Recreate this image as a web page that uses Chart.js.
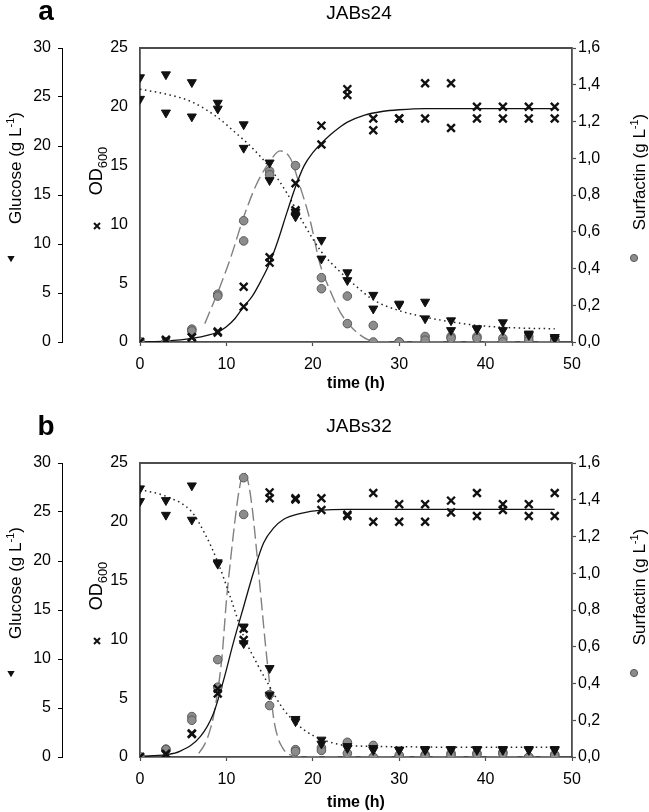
<!DOCTYPE html>
<html><head><meta charset="utf-8">
<script src="https://cdn.jsdelivr.net/npm/chart.js@4.4.1/dist/chart.umd.min.js"></script>
<style>
html,body{margin:0;padding:0;background:#fff;}
#wrap{position:relative;width:649px;height:812px;overflow:hidden;}
canvas{position:absolute;left:0;display:block;}
</style></head><body>
<div id="wrap">
<canvas id="cA" width="649" height="406" style="top:0;width:649px;height:406px"></canvas>
<canvas id="cB" width="649" height="406" style="top:406px;width:649px;height:406px"></canvas>
</div>
<script>
// ---------- data ----------
const times = [0,3,6,9,12,15,18,21,24,27,30,33,36,39,42,45,48];

// Panel a : JABs24
const glucoseA_rep1 = [27.0,27.3,26.5,24.4,22.2,18.3,13.3,10.4,7.1,4.8,3.9,4.1,2.2,1.4,2.0,0.85,0.5];
const glucoseA_rep2 = [24.8,23.4,23.0,23.8,19.8,16.5,12.8,8.5,6.3,3.4,3.8,2.4,1.2,1.3,1.2,0.7,0.35];
const odA_rep1 = [0,0.2,0.4,0.9,4.7,7.2,13.5,18.4,21.5,19.0,19.0,22.0,22.0,20.0,20.0,20.0,20.0];
const odA_rep2 = [0,0.1,0.4,0.8,3.0,6.75,11.2,16.8,21.0,18.0,19.0,19.0,18.2,19.0,19.0,19.0,19.0];
const surfA_rep1 = [0,0,0.07,0.26,0.66,0.93,0.96,0.35,0.25,0.09,0.0,0.03,0.03,0.03,0.02,0.03,0.01];
const surfA_rep2 = [0,0,0.06,0.25,0.55,0.91,0.70,0.29,0.10,0.0,0.0,0.01,0.02,0.02,0.0,0.01,0.01];
const odFitA_t = [0,3,6,8,9,10,11,12,13,14,15,16,17,18,19,20,21,22,23,24,26,28,30,33,40,48];
const odFitA   = [0.0,0.08,0.3,0.6,0.85,1.3,2.0,3.0,3.9,5.2,6.7,8.7,11.0,13.2,15.0,16.1,16.9,17.6,18.2,18.7,19.3,19.6,19.75,19.85,19.85,19.85];
const gluFitA_t = [0,3,6,9,11,13,15,17,19,21,23,25,27,30,33,36,39,42,45,48];
const gluFitA   = [25.8,25.3,24.5,22.9,21.4,19.8,17.8,15.2,12.0,9.2,7.3,5.7,4.3,3.2,2.55,2.05,1.7,1.5,1.4,1.35];
const surfFitA_t = [7.5,9,10.5,12,13.5,15,16.2,17.4,18.5,19.7,20.8,22,23.2,24.7,26.5,28,48];
const surfFitA   = [0.10,0.27,0.46,0.68,0.86,0.98,1.04,1.0,0.85,0.66,0.43,0.28,0.16,0.07,0.01,0,0];

// Panel b : JABs32
const glucoseB_rep1 = [27.4,26.2,27.7,19.85,13.3,9.06,3.87,1.76,1.1,0.9,0.75,0.8,0.8,0.8,0.8,0.8,0.8];
const glucoseB_rep2 = [26.1,24.7,24.2,19.7,11.6,6.35,3.63,1.35,0.9,0.7,0.7,0.7,0.7,0.7,0.7,0.7,0.7];
const odB_rep1 = [0,0.28,1.95,5.8,10.9,22.5,22.0,22.0,20.5,22.45,21.5,21.5,21.8,22.45,21.5,21.5,22.45];
const odB_rep2 = [0,0.2,2.0,5.4,9.95,22.0,21.9,21.0,20.6,20.0,20.0,20.0,20.8,20.5,21.0,20.5,20.5];
const surfB_rep1 = [0,0.043,0.22,0.53,1.52,0.34,0.04,0.05,0.08,0.063,0.0,0.013,0.02,0.02,0.025,0.0,0.013];
const surfB_rep2 = [0,0.04,0.2,0.38,1.32,0.28,0.03,0.036,0.02,0.0,0.01,0.005,0.01,0.015,0.018,0.0,0.01];
const odFitB_t = [0,3,4.6,7,8.5,9.7,10.8,12,13.1,14.3,15.5,16.6,18.5,21,24,48];
const odFitB   = [0.05,0.2,0.48,1.75,3.7,6.6,9.7,12.8,15.6,18.2,19.5,20.2,20.7,21.0,21.05,21.05];
const gluFitB_t = [0,3,6,7.5,9,10.5,12,13.5,15,16.5,18,20,23,26,30,36,42,48];
const gluFitB   = [27.3,26.6,25.0,22.8,19.9,16.2,12.3,9.6,7.2,5.0,3.5,2.2,1.3,1.1,1.05,1.0,1.0,1.0];
const surfFitB_t = [6.8,7.5,8,8.5,9,9.5,10,10.5,11,11.5,12,12.5,13,13.5,14,14.5,15,15.5,16,16.5,17,17.5,18,48];
const surfFitB   = [0.02,0.07,0.13,0.22,0.36,0.55,0.85,1.08,1.29,1.46,1.55,1.5,1.35,1.12,0.87,0.62,0.4,0.2,0.1,0.05,0.02,0.01,0.0,0.0];

// tick labels
const xTickValues = [0,10,20,30,40,50];
const odTickValues = [0,5,10,15,20,25];
const glucoseTickValues = [0,5,10,15,20,25,30];
const surfTickLabels = ['0,0','0,2','0,4','0,6','0,8','1,0','1,2','1,4','1,6'];
const panelTitles = ['JABs24','JABs32'];
const panelLetters = ['a','b'];

// ---------- helpers ----------
const FONT = "'Liberation Sans', Arial, Helvetica, sans-serif";
function pts(xs, ys){ return xs.map((x,i)=>({x:x, y:ys[i]})); }
function reps(r1, r2){ return pts(times, r1).concat(pts(times, r2)); }

function rotTitle(ctx, x, y, parts){
  ctx.save();
  ctx.translate(x, y);
  ctx.rotate(-Math.PI/2);
  ctx.textAlign = 'left';
  ctx.textBaseline = 'alphabetic';
  let total = 0;
  parts.forEach(p => { ctx.font = p[3] + p[1] + 'px ' + FONT; total += ctx.measureText(p[0]).width; });
  let cx = -total/2;
  parts.forEach(p => {
    ctx.font = p[3] + p[1] + 'px ' + FONT;
    ctx.fillText(p[0], cx, p[2]);
    cx += ctx.measureText(p[0]).width;
  });
  ctx.restore();
}

const decorPlugin = {
  id: 'decor',
  afterDraw(chart, args, o) {
    const ctx = chart.ctx, ca = chart.chartArea, dy = o.dy;
    ctx.save();
    ctx.strokeStyle = '#4d4d4d'; ctx.lineWidth = 1.8;
    ctx.beginPath(); ctx.moveTo(ca.left, ca.top); ctx.lineTo(ca.right, ca.top); ctx.stroke();
    ctx.fillStyle = '#000';
    ctx.textAlign = 'center'; ctx.textBaseline = 'alphabetic';
    ctx.font = 'bold 28px ' + FONT;
    ctx.fillText(o.letter, 46, o.letterBase);
    ctx.font = '19px ' + FONT;
    ctx.fillText(o.title, 359, o.titleBase);
    ctx.font = 'bold 16px ' + FONT; ctx.textBaseline = 'middle';
    ctx.fillText('time (h)', 356, o.xTitleY);
    // rotated axis titles
    rotTitle(ctx, 21, 168 + dy, [['Glucose (g L',17,0,''],['-1',11,-7,''],[')',17,0,'']]);
    rotTitle(ctx, 102, 171 + dy, [['OD',18,0,''],['600',13,5,'']]);
    rotTitle(ctx, 645, 172 + dy, [['Surfactin (g L',17,0,''],['-1',11,-7,''],[')',17,0,'']]);
    // symbols
    ctx.fillStyle = '#111';
    let tx = 11, ty = 258 + dy, r = 4.2;
    ctx.beginPath();
    ctx.moveTo(tx, ty + r); ctx.lineTo(tx - r*0.866, ty - r/2); ctx.lineTo(tx + r*0.866, ty - r/2); ctx.closePath(); ctx.fill();
    ctx.strokeStyle = '#111'; ctx.lineWidth = 2;
    let cx = 97, cy = 226 + dy, s = 3;
    ctx.beginPath(); ctx.moveTo(cx-s, cy-s); ctx.lineTo(cx+s, cy+s); ctx.moveTo(cx+s, cy-s); ctx.lineTo(cx-s, cy+s); ctx.stroke();
    ctx.fillStyle = '#8c8c8c'; ctx.strokeStyle = '#5a5a5a'; ctx.lineWidth = 1;
    ctx.beginPath(); ctx.arc(634, 258 + dy, 3.6, 0, Math.PI*2); ctx.fill(); ctx.stroke();
    ctx.restore();
  }
};

function makePanel(id, p) {
  const axisCol = '#4d4d4d';
  const tickFont = { family: FONT, size: 16 };
  new Chart(document.getElementById(id), {
    type: 'scatter',
    data: {
      datasets: [
        { label: 'Glucose', data: reps(p.g1, p.g2), yAxisID: 'yGlu', order: 1,
          pointStyle: 'triangle', rotation: 180, pointRadius: 5.2, pointHoverRadius: 5.2,
          backgroundColor: '#111', borderColor: '#111', borderWidth: 1 },
        { label: 'OD600', data: reps(p.o1, p.o2), yAxisID: 'yOD', order: 2,
          pointStyle: 'crossRot', pointRadius: 5.5, pointHoverRadius: 5.5,
          borderColor: '#111', backgroundColor: '#111', borderWidth: 2.4 },
        { label: 'Surfactin', data: reps(p.s1, p.s2), yAxisID: 'ySurf', order: 3,
          pointStyle: 'circle', pointRadius: 4.3, pointHoverRadius: 4.3,
          backgroundColor: '#8c8c8c', borderColor: '#5a5a5a', borderWidth: 1 },
        { label: 'OD fit', data: pts(p.oft, p.of), yAxisID: 'yOD', order: 10, showLine: true,
          pointRadius: 0, borderColor: '#111', borderWidth: 1.3, cubicInterpolationMode: 'monotone' },
        { label: 'Glucose fit', data: pts(p.gft, p.gf), yAxisID: 'yGlu', order: 11, showLine: true,
          pointRadius: 0, borderColor: '#222', borderWidth: 1.5, borderDash: [1.5, 3.5], cubicInterpolationMode: 'monotone' },
        { label: 'Surfactin fit', data: pts(p.sft, p.sf), yAxisID: 'ySurf', order: 12, showLine: true,
          pointRadius: 0, borderColor: '#808080', borderWidth: 1.4, borderDash: [13, 5], cubicInterpolationMode: 'monotone' }
      ]
    },
    options: {
      responsive: false, animation: false, devicePixelRatio: 1,
      layout: { padding: { top: p.top, left: 0, right: 0, bottom: 0 } },
      plugins: { legend: { display: false }, tooltip: { enabled: false },
        decor: { letter: p.letter, title: p.title, letterBase: p.letterBase, titleBase: p.titleBase, xTitleY: p.xTitleY, dy: p.dy } },
      scales: {
        x: { type: 'linear', position: 'bottom', min: 0, max: 50,
          afterFit: s => { s.height = p.xh; },
          afterBuildTicks: s => { s.ticks = xTickValues.map(v => ({ value: v })); },
          ticks: { font: tickFont, color: '#000', padding: 9, maxRotation: 0 },
          grid: { drawOnChartArea: false, drawTicks: true, tickLength: 4, color: axisCol, tickWidth: 1.2 },
          border: { color: axisCol, width: 1.8 } },
        yGlu: { type: 'linear', position: 'left', weight: 2, min: 0, max: 30,
          afterFit: s => { s.width = 62; },
          afterBuildTicks: s => { s.ticks = glucoseTickValues.map(v => ({ value: v })); },
          ticks: { font: tickFont, color: '#000', padding: 7 },
          grid: { drawOnChartArea: false, drawTicks: true, tickLength: 4, color: '#000', tickWidth: 1 },
          border: { color: '#000', width: 1 } },
        yOD: { type: 'linear', position: 'left', weight: 1, min: 0, max: 25,
          afterFit: s => { s.width = 78; },
          afterBuildTicks: s => { s.ticks = odTickValues.map(v => ({ value: v })); },
          ticks: { font: tickFont, color: '#000', padding: 12 },
          grid: { drawOnChartArea: false, drawTicks: false },
          border: { color: axisCol, width: 1.8 } },
        ySurf: { type: 'linear', position: 'right', min: 0, max: 1.6,
          afterFit: s => { s.width = 77; },
          afterBuildTicks: s => { s.ticks = surfTickLabels.map((l, i) => ({ value: i * 0.2 })); },
          ticks: { font: tickFont, color: '#000', padding: 2,
            callback: (v, i) => surfTickLabels[i] },
          grid: { drawOnChartArea: false, drawTicks: true, tickLength: 4, color: axisCol, tickWidth: 1.2 },
          border: { color: axisCol, width: 1.8 } }
      }
    },
    plugins: [decorPlugin]
  });
}

makePanel('cA', { g1: glucoseA_rep1, g2: glucoseA_rep2, o1: odA_rep1, o2: odA_rep2, s1: surfA_rep1, s2: surfA_rep2,
  oft: odFitA_t, of: odFitA, gft: gluFitA_t, gf: gluFitA, sft: surfFitA_t, sf: surfFitA,
  top: 48, xh: 64, letter: panelLetters[0], title: panelTitles[0], letterBase: 20, titleBase: 19, xTitleY: 384, dy: 0 });
makePanel('cB', { g1: glucoseB_rep1, g2: glucoseB_rep2, o1: odB_rep1, o2: odB_rep2, s1: surfB_rep1, s2: surfB_rep2,
  oft: odFitB_t, of: odFitB, gft: gluFitB_t, gf: gluFitB, sft: surfFitB_t, sf: surfFitB,
  top: 57, xh: 55, letter: panelLetters[1], title: panelTitles[1], letterBase: 29, titleBase: 26, xTitleY: 397, dy: 9 });
</script>
</body></html>
